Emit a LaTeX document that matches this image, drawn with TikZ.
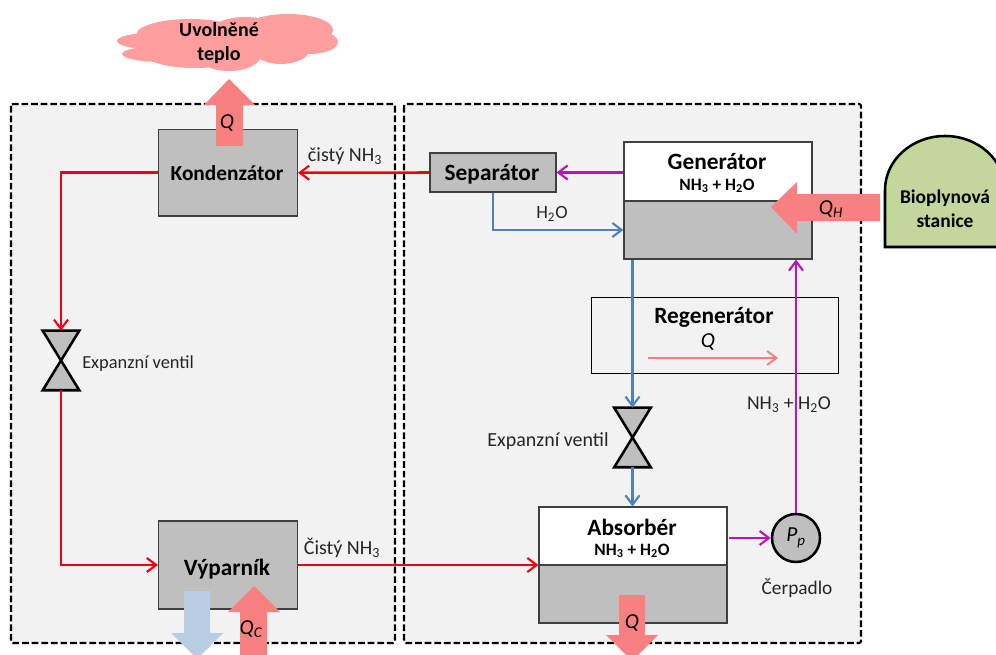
\documentclass[tikz,border=0pt]{standalone}
\usepackage{fontspec}
\setmainfont{Carlito}
\usetikzlibrary{arrows.meta,calc}
\definecolor{panelc}{HTML}{F2F2F2}
\definecolor{boxc}{HTML}{BFBFBF}
\definecolor{heatc}{HTML}{F98080}
\definecolor{cloudc}{HTML}{FF9E9E}
\definecolor{coldc}{HTML}{B9CDE5}
\definecolor{greenc}{HTML}{C3D69B}
\definecolor{bluec}{HTML}{4F81BD}
\definecolor{purplec}{HTML}{BC10C4}
\definecolor{redc}{HTML}{F00010}
\definecolor{palec}{HTML}{F08080}
\def\px{0.75pt}
\newcommand{\sub}[1]{\textsubscript{#1}}
\tikzset{
  panel/.style={draw=black,fill=panelc,line width=1.6pt,rounded corners=1.5pt,dash pattern=on 5pt off 2.2pt},
  unit/.style={draw=black!75,line width=0.8pt,inner sep=0pt},
  grayunit/.style={unit,fill=boxc},
  whiteunit/.style={unit,fill=white},
  lbl/.style={inner sep=0pt,font=\fontsize{15}{16}\selectfont,text=black!85},
  qlbl/.style={inner sep=0pt,font=\itshape\fontsize{16}{18}\selectfont},
  head/.style={inner sep=0pt,font=\bfseries\fontsize{17.5}{20}\selectfont},
  mixlbl/.style={inner sep=0pt,font=\bfseries\fontsize{13}{15}\selectfont},
  valve/.style={inner sep=0pt,minimum width=36*\px,minimum height=59*\px},
  valveline/.style={draw=black,fill=boxc,line width=1.9pt,line join=miter},
  flow/.style={line width=1.9pt,-{Straight Barb[length=7pt,width=10.5pt,line width=1.6pt]}},
  heat/.style={fill=heatc},
  cold/.style={fill=coldc},
}
\begin{document}
\begin{tikzpicture}[x=0.75pt,y=-0.75pt]
\useasboundingbox (0,0) rectangle (996,655);
\clip (0,0) rectangle (996,655);

% panels
\draw[panel] (11,104) rectangle (395,643);
\draw[panel] (404,104) rectangle (861,643);

% cloud
\fill[cloudc]
  (150,41) ellipse [x radius=33,y radius=8]
  (190,35) ellipse [x radius=54,y radius=16]
  (162,54) ellipse [x radius=40,y radius=8]
  (195,54) ellipse [x radius=50,y radius=14]
  (229,55) ellipse [x radius=32,y radius=16]
  (245,33) ellipse [x radius=35,y radius=16]
  (288,30) ellipse [x radius=45,y radius=16]
  (310,42) ellipse [x radius=28,y radius=12]
  (281,50) ellipse [x radius=28,y radius=14];
\node[inner sep=0pt,align=center,font=\bfseries\fontsize{15}{18}\selectfont] (cloudtxt) at (219,43) {Uvolněné\\teplo};

% units
\node[grayunit,minimum width=139*\px,minimum height=86.5*\px] (kond) at (228,172.75) {};
\node[head,font=\bfseries\fontsize{16}{18}\selectfont] (kondtxt) at (227,173) {Kondenzátor};
\node[grayunit,minimum width=139*\px,minimum height=88*\px] (vyp) at (228,565) {};
\node[head] (vyptxt) at (227,569) {Výparník};
\node[grayunit,minimum width=126*\px,minimum height=39*\px] (sep) at (493,172.5) {};
\node[head] (septxt) at (492,174) {Separátor};
\node[whiteunit,minimum width=188*\px,minimum height=59*\px] (gentop) at (718,171.5) {};
\node[grayunit,minimum width=188*\px,minimum height=58*\px] (genbot) at (718,230) {};
\node[head] (gentxt) at (717,162) {Generátor};
\node[mixlbl] (genmix) at (717,186) {NH\sub{3} + H\sub{2}O};
\node[unit,fill=panelc,draw=black,line width=0.6pt,minimum width=247*\px,minimum height=76*\px] (reg) at (714.5,335) {};
\node[head] (regtxt) at (714,317) {Regenerátor};
\node[qlbl] (regq) at (708,342) {Q};
\coordinate (regA) at (648,358);
\coordinate (regB) at (778,358);
\node[whiteunit,minimum width=188*\px,minimum height=58*\px] (abstop) at (633,536) {};
\node[grayunit,minimum width=188*\px,minimum height=58*\px] (absbot) at (633,594) {};
\node[head] (abstxt) at (632,527) {Absorbér};
\node[mixlbl] (absmix) at (632,551) {NH\sub{3} + H\sub{2}O};
\node[circle,draw=black,fill=boxc,line width=1.9pt,inner sep=0pt,minimum size=48*\px,font=\itshape\fontsize{16}{18}\selectfont] (pump) at (796,538) {P\sub{p}};

% valves
\node[valve] (va) at (61,360.5) {};
\node[valve] (vb) at (632.5,437.5) {};
\draw[valveline] (va.north west)--(va.north east)--(va.south west)--(va.south east)--cycle;
\draw[valveline] (vb.north west)--(vb.north east)--(vb.south west)--(vb.south east)--cycle;

% labels
\node[lbl] (l1) at (345,156) {čistý NH\sub{3}};
\node[lbl] (l2) at (342,548) {Čistý NH\sub{3}};
\node[lbl,font=\fontsize{13.8}{16}\selectfont,anchor=west] (l3) at (82,364) {Expanzní ventil};
\node[lbl,anchor=east] (l4) at (609,441) {Expanzní ventil};
\node[lbl,font=\fontsize{14}{16}\selectfont] (l5) at (552,214) {H\sub{2}O};
\node[lbl,font=\fontsize{14.7}{16}\selectfont] (l6) at (789,405) {NH\sub{3} + H\sub{2}O};
\node[lbl,font=\fontsize{14.5}{16}\selectfont] (l7) at (797,588) {Čerpadlo};

% connectors
\draw[flow,redc] (sep.west) -- (kond.east);
\draw[flow,redc] (kond.west) -| (va.north);
\draw[flow,redc] (va.south) |- (vyp.west);
\draw[flow,redc] (vyp.east) -- (vyp.east -| abstop.west);
\draw[flow,purplec] (gentop.west |- sep.east) -- (sep.east);
\draw[flow,bluec] (sep.south) |- (genbot.west);
\draw[flow,bluec] (vb.north |- genbot.south) -- (vb.north);
\draw[flow,bluec] (vb.south) -- (abstop.north -| vb.south);
\draw[flow,purplec] ($(abstop.east |- pump.west)+(1.5,0)$) -- (pump.west);
\draw[flow,purplec] (pump.north) -- (pump.north |- genbot.south);
\draw[palec,line width=1.5pt,-{Straight Barb[length=7pt,width=10.5pt,line width=1.4pt]}] (regA) -- (regB);

% large heat arrows
\fill[heat] (216,146)--(216,105)--(204,105)--(229,79)--(255,105)--(243,105)--(243,146)--cycle;
\node[qlbl] (qa) at (227,123) {Q};
\fill[heat] (880,194)--(797,194)--(797,182)--(771,207)--(797,234)--(797,221)--(880,221)--cycle;
\node[qlbl] (qh) at (831,209) {Q\sub{H}};
\fill[heat] (240,655)--(240,612)--(228,612)--(254,586)--(280,612)--(267,612)--(267,655)--cycle;
\node[qlbl] (qc) at (251,629) {Q\sub{C}};
\fill[cold] (184,591)--(210,591)--(210,633)--(223,633)--(197,659)--(171,633)--(184,633)--cycle;
\fill[heat] (619,595)--(645,595)--(645,635)--(658,635)--(632,661)--(606,635)--(619,635)--cycle;
\node[qlbl] (qb) at (632,623) {Q};

% biogas station
\draw[draw=black,fill=greenc,line width=1.9pt] (885,247) -- (885,190) arc[start angle=180,end angle=360,x radius=60,y radius=54] -- (1005,247) -- cycle;
\node[inner sep=0pt,align=center,font=\bfseries\fontsize{14.6}{18}\selectfont] (bio) at (945,209) {Bioplynová\\stanice};
\end{tikzpicture}
\end{document}
